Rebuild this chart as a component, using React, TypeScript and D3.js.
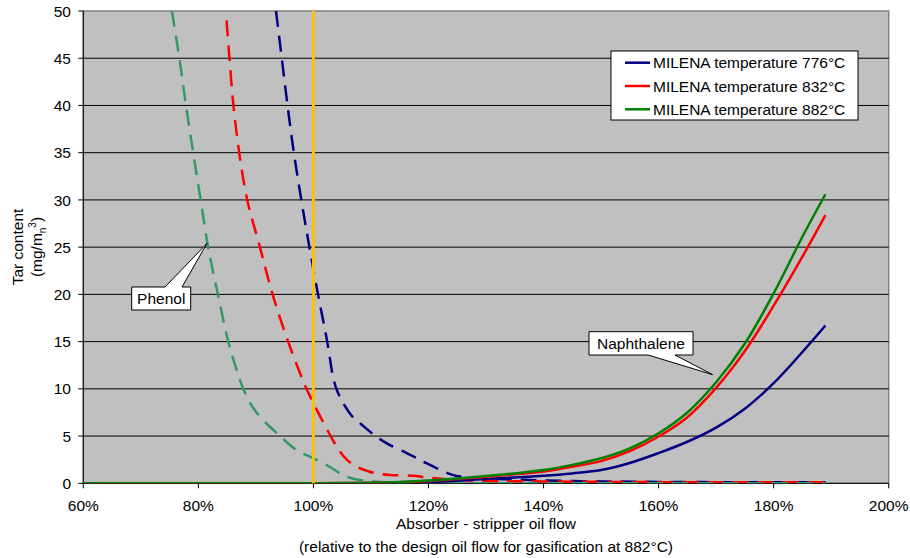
import React from 'react';
import * as d3 from 'd3';

// ---------- data ----------
const xTicks = [60, 80, 100, 120, 140, 160, 180, 200];
const yTicks = [0, 5, 10, 15, 20, 25, 30, 35, 40, 45, 50];
const designFlow = 100;

// Phenol (dashed)
const phenolX776 = [93.5, 94.5, 95.5, 96.6, 97.9, 99.3, 100.8, 102.4, 103.4, 104.0, 104.9, 106.8, 108.4, 111, 113.3, 116.2, 118, 119.4, 123.2, 124.9, 127.8, 130, 135, 140, 150, 160, 170, 180, 189];
const phenolY776 = [50, 45, 40, 35, 30, 25, 20, 15, 11.3, 10, 8.8, 7.05, 6.2, 4.9, 4.05, 3.2, 2.65, 2.2, 1.1, 0.77, 0.63, 0.5, 0.4, 0.3, 0.2, 0.15, 0.12, 0.1, 0.1];

const phenolX832 = [84.9, 85.4, 86.1, 87.1, 88.5, 90.7, 92.9, 95.6, 98.8, 100, 101.5, 103, 104.4, 105.8, 107.5, 109.5, 111, 113.3, 117.3, 120, 125, 130, 140, 150, 160, 170, 180, 189];
const phenolY832 = [49, 45, 40, 35, 30, 25, 20, 15, 10, 8.5, 6.7, 5.0, 3.55, 2.5, 1.75, 1.28, 1.05, 0.88, 0.8, 0.6, 0.35, 0.25, 0.2, 0.15, 0.12, 0.1, 0.1, 0.1];

const phenolX882 = [75.4, 76.7, 77.85, 79.1, 80.4, 81.7, 83.4, 85.2, 86.5, 87.8, 89.2, 90.7, 94.2, 97.1, 100, 102.3, 105.8, 110, 115, 120, 130, 140, 150, 160, 170, 180, 189];
const phenolY882 = [50, 45, 40, 35, 30, 25, 20, 15, 12.3, 10, 8.3, 7.05, 5, 3.5, 2.65, 1.94, 0.7, 0.2, 0.05, 0, 0, 0, 0, 0, 0, 0, 0];

// Naphthalene (solid)
const naphX = [60, 80, 100, 110, 115, 120, 125, 130, 135, 140, 145, 150, 155, 160, 165, 170, 175, 180, 185, 189];
const naphY776 = [0, 0, 0, 0.02, 0.08, 0.15, 0.28, 0.45, 0.62, 0.8, 1.05, 1.4, 2.15, 3.2, 4.4, 5.9, 7.9, 10.6, 13.9, 16.7];
const naphY832 = [0, 0, 0, 0.04, 0.12, 0.25, 0.45, 0.7, 0.95, 1.25, 1.75, 2.35, 3.4, 4.95, 7.0, 10.1, 14.0, 18.8, 24.0, 28.4];
const naphY882 = [0, 0, 0, 0.05, 0.15, 0.3, 0.5, 0.77, 1.05, 1.4, 1.95, 2.65, 3.7, 5.3, 7.5, 10.7, 14.8, 20.1, 26.1, 30.6];

const legendLabels = ['MILENA temperature 776°C', 'MILENA temperature 832°C', 'MILENA temperature 882°C'];
const seriesColors = ['#000080', '#FF0000', '#008000'];
const phenolColors = ['#000080', '#FF0000', '#339966'];

const phenolTip = [81.5, 25.4];
const naphTip = [169.4, 11.5];

const FONT = '"Liberation Sans", Arial, sans-serif';
const FS = 15.5;

export default function App() {
  const left = 83.3, right = 888.7, top = 11, bottom = 483.3;
  const x = d3.scaleLinear().domain([60, 200]).range([left, right]);
  const y = d3.scaleLinear().domain([0, 50]).range([bottom, top]);

  const mk = (xs: number[], ys: number[]) =>
    d3.line<number>()
      .x((_, i) => x(xs[i]))
      .y((d) => y(d))
      .curve(d3.curveCatmullRom.alpha(0.5))(ys) as string;

  const phenol = [
    mk(phenolX776, phenolY776),
    mk(phenolX832, phenolY832),
    mk(phenolX882, phenolY882),
  ];
  const naph = [mk(naphX, naphY776), mk(naphX, naphY832), mk(naphX, naphY882)];

  // callouts
  const pb = { x0: 131.7, y0: 287, x1: 190.7, y1: 310 };
  const ptx = x(phenolTip[0]), pty = y(phenolTip[1]);
  const phenolPath = `M${pb.x0},${pb.y0} L165,${pb.y0} L${ptx},${pty} L182,${pb.y0} L${pb.x1},${pb.y0} L${pb.x1},${pb.y1} L${pb.x0},${pb.y1} Z`;

  const nb = { x0: 589, y0: 331.7, x1: 693, y1: 355 };
  const ntx = x(naphTip[0]), nty = y(naphTip[1]);
  const naphPath = `M${nb.x0},${nb.y0} L${nb.x1},${nb.y0} L${nb.x1},${nb.y1} L675,${nb.y1} L${ntx},${nty} L648,${nb.y1} L${nb.x0},${nb.y1} Z`;

  const legendRows = [62.7, 86, 109.3];

  return (
    <svg width={910} height={558} style={{ position: 'absolute', left: 0, top: 0, background: '#fff' }} fontFamily={FONT}>
      <defs>
        <clipPath id="plotclip">
          <rect x={left} y={top} width={right - left} height={bottom - top} />
        </clipPath>
      </defs>
      {/* plot area */}
      <rect x={left} y={top} width={right - left} height={bottom - top} fill="#C0C0C0" stroke="#808080" strokeWidth={1.5} />
      {/* gridlines */}
      {yTicks.filter((t) => t > 0 && t < 50).map((t) => (
        <line key={t} x1={left} x2={right} y1={y(t)} y2={y(t)} stroke="#000" strokeWidth={1} />
      ))}
      {/* axes */}
      <line x1={left} x2={left} y1={top} y2={bottom} stroke="#000" strokeWidth={1} />
      <line x1={left} x2={right} y1={bottom} y2={bottom} stroke="#000" strokeWidth={1} />
      {yTicks.map((t) => (
        <g key={t}>
          <line x1={left - 5} x2={left} y1={y(t)} y2={y(t)} stroke="#000" />
          <text x={71} y={y(t)} dy="0.36em" textAnchor="end" fontSize={FS} fill="#000">{t}</text>
        </g>
      ))}
      {xTicks.map((t) => (
        <g key={t}>
          <line x1={x(t)} x2={x(t)} y1={bottom} y2={bottom + 5} stroke="#000" />
          <text x={x(t)} y={511} textAnchor="middle" fontSize={FS} fill="#000">{t}%</text>
        </g>
      ))}

      {/* series */}
      <g clipPath="url(#plotclip)">
        {phenol.map((d, i) => (
          <path key={'p' + i} d={d} fill="none" stroke={phenolColors[i]} strokeWidth={2.5} strokeDasharray="16 9" />
        ))}
        {naph.map((d, i) => (
          <path key={'n' + i} d={d} fill="none" stroke={seriesColors[i]} strokeWidth={2.5} />
        ))}
      </g>

      {/* design flow line */}
      <line x1={x(designFlow)} x2={x(designFlow)} y1={top} y2={bottom} stroke="#FFC000" strokeWidth={3} />

      {/* callouts */}
      <path d={phenolPath} fill="#fff" stroke="#000" strokeWidth={1} />
      <text x={(pb.x0 + pb.x1) / 2} y={(pb.y0 + pb.y1) / 2} dy="0.36em" textAnchor="middle" fontSize={FS}>Phenol</text>
      <path d={naphPath} fill="#fff" stroke="#000" strokeWidth={1} />
      <text x={(nb.x0 + nb.x1) / 2} y={(nb.y0 + nb.y1) / 2} dy="0.36em" textAnchor="middle" fontSize={FS}>Naphthalene</text>

      {/* legend */}
      <rect x={611} y={51} width={247} height={69} fill="#fff" stroke="#000" strokeWidth={1} />
      {legendLabels.map((l, i) => (
        <g key={l}>
          <line x1={625} x2={650} y1={legendRows[i]} y2={legendRows[i]} stroke={seriesColors[i]} strokeWidth={2.5} />
          <text x={653} y={legendRows[i]} dy="0.36em" fontSize={FS}>{l}</text>
        </g>
      ))}

      {/* axis titles */}
      <text x={(left + right) / 2} y={529} textAnchor="middle" fontSize={FS}>Absorber - stripper oil flow</text>
      <text x={(left + right) / 2} y={552} textAnchor="middle" fontSize={FS}>(relative to the design oil flow for gasification at 882°C)</text>
      <g transform="translate(23,247) rotate(-90)">
        <text x={0} y={0} textAnchor="middle" fontSize={FS}>Tar content</text>
      </g>
      <g transform="translate(42,247) rotate(-90)">
        <text x={0} y={0} textAnchor="middle" fontSize={FS}>
          (mg/m<tspan fontSize={10} dy={4}>n</tspan><tspan fontSize={10} dy={-10}>3</tspan><tspan dy={6}>)</tspan>
        </text>
      </g>
    </svg>
  );
}
